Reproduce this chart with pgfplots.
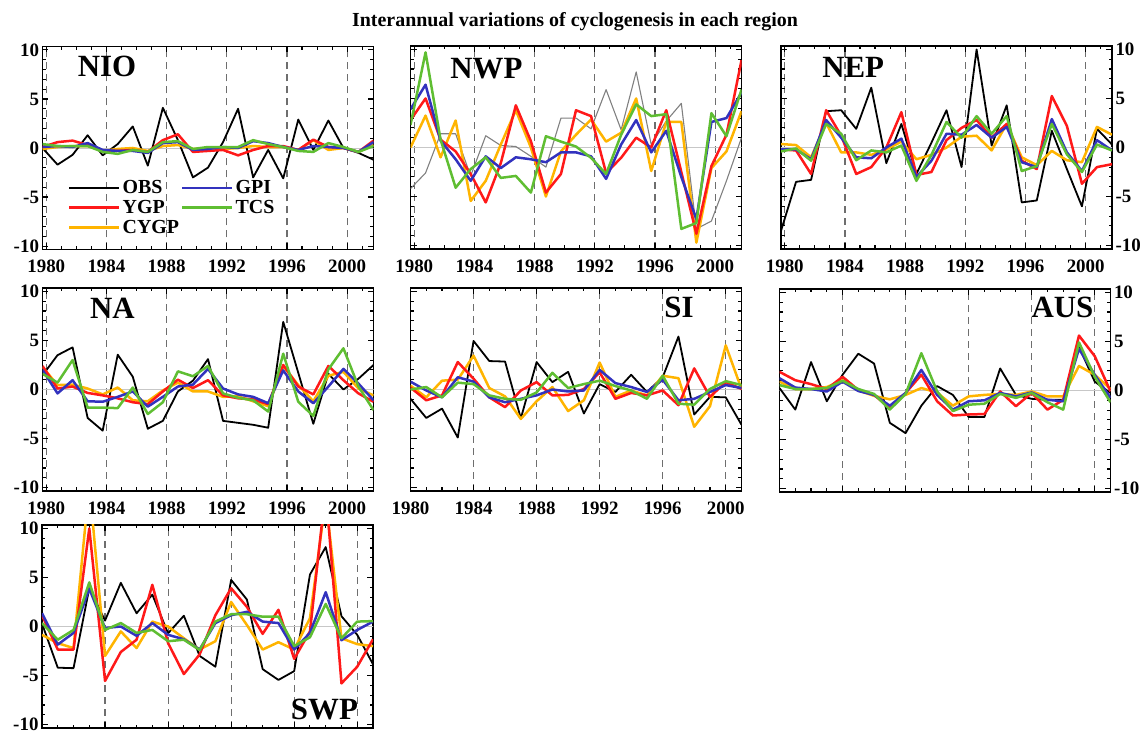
\documentclass[border=0pt]{standalone}
\usepackage{fontspec}
\setmainfont{Liberation Serif}
\usepackage{pgfplots}
\usepackage{pgfplotstable}
\pgfplotsset{compat=1.18}
\definecolor{cred}{RGB}{255,25,25}
\definecolor{cblue}{RGB}{50,50,190}
\definecolor{cgreen}{RGB}{95,190,50}
\definecolor{corange}{RGB}{255,180,0}
\definecolor{cgrid}{RGB}{110,110,110}

\pgfplotstableread{
x obs ygp cygp gpi tcs
1979.75 0.0 0.1 -0.1 0.1 0.4
1980.75 -1.7 0.6 0.1 0.2 0.2
1981.75 -0.7 0.75 0.2 0.1 0.2
1982.75 1.3 0.3 0.2 0.5 0.2
1983.75 -0.75 -0.3 -0.3 -0.2 -0.4
1984.75 0.4 -0.3 -0.1 -0.3 -0.6
1985.75 2.2 -0.2 0.0 -0.3 -0.2
1986.75 -1.8 -0.4 -0.3 -0.5 -0.4
1987.75 4.1 0.8 0.2 0.5 0.6
1988.75 0.8 1.4 0.3 0.6 0.7
1989.75 -3.0 -0.4 -0.1 -0.2 -0.1
1990.75 -2.0 -0.3 0.0 -0.1 0.1
1991.75 0.6 -0.2 -0.1 0.1 0.1
1992.75 4.0 -0.75 0.0 0.0 0.1
1993.75 -3.0 -0.2 0.2 0.7 0.8
1994.75 -0.2 0.2 0.1 0.5 0.4
1995.75 -3.1 0.2 0.1 0.1 0.1
1996.75 2.9 -0.2 -0.2 -0.2 -0.3
1997.75 -0.2 0.85 0.8 0.2 -0.4
1998.75 2.8 0.1 -0.2 0.1 0.5
1999.75 0.0 0.0 0.0 0.0 0.1
2000.75 -0.5 -0.4 -0.4 -0.4 -0.4
2001.75 -1.2 0.75 0.3 0.6 0.2
}\tabNIO

\pgfplotstableread{
x obs ygp cygp gpi tcs
1979.75 -4.2 2.8 0.0 3.9 2.3
1980.75 -2.6 5.0 3.25 6.4 9.7
1981.75 1.4 0.8 -1.0 0.7 0.8
1982.75 1.4 -0.4 2.75 -1.2 -4.1
1983.75 -2.9 -2.7 -5.45 -3.4 -2.2
1984.75 1.2 -5.6 -3.4 -0.9 -1.0
1985.75 0.2 -1.6 0.3 -2.1 -3.1
1986.75 0.1 4.3 3.8 -1.0 -2.9
1987.75 -0.9 0.65 0.0 -1.2 -4.6
1988.75 -2.0 -4.6 -5.0 -1.5 1.15
1989.75 3.0 -2.7 -0.4 -0.5 0.6
1990.75 3.0 3.8 1.3 -0.5 0.1
1991.75 1.9 3.2 2.85 -0.9 -1.05
1992.75 5.9 -2.6 0.6 -3.2 -2.7
1993.75 1.8 -1.05 1.5 0.3 1.3
1994.75 7.7 1.0 5.0 2.8 4.4
1995.75 0.3 0.0 -2.4 -0.5 3.2
1996.75 2.7 3.8 2.6 1.7 3.4
1997.75 4.5 -2.5 2.6 -3.0 -8.3
1998.75 -8.3 -8.8 -9.7 -7.3 -7.7
1999.75 -7.5 -1.9 -2.1 2.6 3.5
2000.75 -3.4 1.3 -0.4 3.0 1.15
2001.75 1.0 8.9 3.7 5.6 5.9
}\tabNWP

\pgfplotstableread{
x obs ygp cygp gpi tcs
1979.75 -8.5 -0.2 0.35 -0.2 -0.4
1980.75 -3.5 -0.3 0.25 -0.2 -0.1
1981.75 -3.3 -2.7 -1.0 -1.2 -1.35
1982.75 3.7 3.8 2.5 2.8 2.4
1983.75 3.8 1.2 -0.5 1.0 1.4
1984.75 1.9 -2.7 -0.5 -1.0 -1.3
1985.75 6.1 -2.0 -0.75 -1.1 -0.3
1986.75 -1.6 0.0 -0.2 0.0 -0.5
1987.75 2.4 3.6 0.6 0.9 0.2
1988.75 -2.7 -2.8 -1.2 -3.0 -3.4
1989.75 0.5 -2.5 -0.75 -1.35 -0.75
1990.75 3.8 0.75 0.0 1.4 2.6
1991.75 -2.0 2.0 1.1 1.3 1.0
1992.75 10.0 2.8 1.2 2.3 3.2
1993.75 0.2 1.0 -0.3 1.0 1.4
1994.75 4.3 2.4 2.4 2.1 3.2
1995.75 -5.6 -1.35 -1.0 -1.5 -2.4
1996.75 -5.4 -2.2 -1.8 -2.0 -1.9
1997.75 1.7 5.25 -0.35 2.9 2.4
1998.75 -2.2 2.2 -1.3 -0.5 -0.7
1999.75 -6.0 -3.7 -1.5 -2.4 -2.5
2000.75 1.9 -2.0 2.1 0.75 0.3
2001.75 0.3 -1.7 1.3 -0.3 -0.3
}\tabNEP

\pgfplotstableread{
x obs ygp cygp gpi tcs
1979.75 1.45 2.4 2.3 2.0 1.6
1980.75 3.5 0.1 0.45 -0.4 0.7
1981.75 4.3 0.3 0.5 0.95 3.0
1982.75 -2.9 -0.35 0.1 -1.2 -1.85
1983.75 -4.2 -0.6 -0.5 -1.25 -1.85
1984.75 3.55 -0.9 0.2 -0.75 -1.9
1985.75 1.3 -1.3 -1.1 -0.2 0.2
1986.75 -4.0 -1.5 -1.2 -1.75 -2.5
1987.75 -3.2 -0.2 -0.1 -0.75 -1.3
1988.75 -0.2 1.0 0.7 0.3 1.85
1989.75 0.9 0.15 -0.2 0.5 1.35
1990.75 3.1 0.95 -0.2 2.1 2.4
1991.75 -3.2 -0.6 -0.75 0.1 -0.4
1992.75 -3.4 -0.9 -0.7 -0.5 -0.85
1993.75 -3.6 -1.0 -1.2 -0.75 -1.1
1994.75 -3.9 -1.5 -1.7 -1.4 -2.25
1995.75 6.9 2.5 2.4 1.95 3.65
1996.75 1.7 0.3 0.45 -0.2 -1.25
1997.75 -3.5 -0.5 -1.2 -1.4 -2.7
1998.75 1.6 2.4 1.4 0.3 2.05
1999.75 0.0 0.95 1.8 2.1 4.2
2000.75 1.1 -0.4 0.1 0.6 0.3
2001.75 2.5 -1.25 -0.6 -1.1 -2.1
}\tabNA

\pgfplotstableread{
x obs ygp cygp gpi tcs
1980 -0.95 0.2 0.4 0.8 0.0
1981 -2.9 -1.1 -0.8 -0.1 0.25
1982 -1.95 -0.6 0.9 -0.8 -0.8
1983 -4.9 2.8 1.0 1.25 0.7
1984 4.95 1.1 3.45 0.8 0.55
1985 2.9 -0.8 0.15 -0.8 -0.6
1986 2.85 -1.8 -0.7 -1.3 -0.95
1987 -2.95 -0.1 -3.0 -0.95 -1.05
1988 2.8 0.75 -1.2 -0.6 -0.3
1989 0.75 -0.6 0.25 0.0 1.7
1990 1.8 -0.55 -2.2 -0.2 0.15
1991 -2.45 0.05 -1.1 -0.1 0.55
1992 0.55 1.75 2.75 2.0 0.9
1993 -0.25 -0.95 -0.75 0.65 0.35
1994 1.5 -0.35 -0.1 0.25 -0.1
1995 -0.25 -0.6 -0.6 -0.25 -0.95
1996 1.25 -0.1 1.4 1.0 1.4
1997 5.4 -1.6 1.15 -1.1 -1.45
1998 -2.55 2.15 -3.8 -0.95 -1.55
1999 -0.75 -0.75 -1.7 -0.25 0.05
2000 -0.8 0.75 4.5 0.45 0.85
2001 -3.6 0.05 0.05 0.15 0.45
}\tabSI

\pgfplotstableread{
x obs ygp cygp gpi tcs
1980 0.25 1.9 0.9 1.25 0.55
1981 -1.95 1.05 0.15 0.3 0.15
1982 2.9 0.65 0.15 0.15 0.15
1983 -1.1 0.15 0.35 -0.1 0.25
1984 1.6 1.4 1.05 0.9 1.0
1985 3.75 0.05 0.0 -0.05 0.15
1986 2.75 -0.45 -0.55 -0.45 -0.35
1987 -3.3 -1.8 -0.9 -1.55 -1.95
1988 -4.35 -0.25 -0.45 -0.25 -0.35
1989 -1.55 1.6 0.25 2.1 3.8
1990 0.45 -1.1 -0.2 -0.45 -0.1
1991 -0.45 -2.55 -1.55 -1.95 -2.1
1992 -2.7 -2.45 -0.6 -1.1 -1.45
1993 -2.7 -2.4 -0.45 -1.0 -1.35
1994 2.25 -0.1 -0.35 -0.25 -0.35
1995 -0.45 -1.6 -0.45 -0.6 -0.75
1996 -0.85 -0.25 -0.1 -0.2 -0.25
1997 -0.95 -1.95 -0.6 -0.95 -1.2
1998 -0.95 -0.95 -0.6 -1.1 -1.95
1999 4.45 5.6 2.5 4.25 4.9
2000 0.9 3.5 1.6 1.6 1.4
2001 -0.25 -0.1 0.15 -0.75 -1.2
}\tabAUS

\pgfplotstableread{
x obs ygp cygp gpi tcs
1980 0.3 1.15 -0.85 1.35 0.35
1981 -4.2 -2.35 -1.7 -1.85 -1.35
1982 -4.25 -2.35 -2.2 -0.65 -0.35
1983 3.9 10.0 14.5 3.85 4.5
1984 0.6 -5.55 -3.0 -0.15 -0.35
1985 4.45 -2.6 -0.5 0.0 0.35
1986 1.35 -1.35 -2.2 -0.95 -0.65
1987 3.25 4.25 0.5 0.35 -0.35
1988 -0.7 -1.7 0.0 -0.85 -1.5
1989 1.1 -4.85 -1.2 -1.3 -1.35
1990 -3.0 -2.85 -2.35 -2.35 -2.4
1991 -4.1 1.15 -1.5 0.35 0.5
1992 4.75 3.9 2.5 1.15 1.25
1993 2.75 2.0 0.15 1.5 1.25
1994 -4.35 -0.75 -2.35 0.5 1.0
1995 -5.45 1.7 -1.6 0.35 1.0
1996 -4.55 -3.3 -2.35 -2.35 -2.0
1997 5.3 -0.5 0.85 -0.65 -1.1
1998 8.1 14.0 13.0 3.5 2.3
1999 1.05 -5.8 -1.2 -1.4 -1.2
2000 -0.85 -4.1 -1.8 -0.35 0.5
2001 -3.85 -1.3 -2.0 0.5 0.55
}\tabSWP

\tikzset{
  sobs/.style={black, line width=1.8bp, line join=round},
  sgray/.style={black!50, line width=1.1bp, line join=round},
  sygp/.style={cred, line width=2.5bp, line join=round},
  scygp/.style={corange, line width=2.5bp, line join=round},
  sgpi/.style={cblue, line width=2.5bp, line join=round},
  stcs/.style={cgreen, line width=2.5bp, line join=round},
  plab/.style={font=\bfseries\fontsize{31}{31}\selectfont, inner sep=0pt},
}

\pgfplotsset{
  panel/.style={
    scale only axis, width=331bp, height=203bp,
    anchor=south west,
    ymin=-10.35, ymax=10.35,
    ytick={-10,-5,0,5,10},
    yticklabels={-10,-5,0,5,10},
    minor ytick={-10,...,10},
    xtick={1980,1984,1988,1992,1996,2000},
    xticklabels={1980,1984,1988,1992,1996,2000},
    minor xtick={1980,...,2001},
    xtick pos=both, ytick pos=both,
    xmajorgrids,
    major grid style={draw=cgrid, dash pattern=on 7bp off 5bp, line width=1.1bp},
    tick align=inside,
    major tick length=6bp, minor tick length=3.5bp,
    every tick/.style={black, line width=1.1bp},
    axis line style={line width=1.8bp},
    tick label style={font=\bfseries\fontsize{19}{19}\selectfont},
    xticklabel style={yshift=-7bp},
  },
  nh/.style={xmin=1979.75, xmax=2001.75},
  sh/.style={xmin=1980, xmax=2001},
  zeroline/.style={black!22, line width=0.8bp, forget plot},
}

\newcommand{\drawall}[2]{%
  \addplot[zeroline] coordinates {(1979,0) (2003,0)};
  \addplot[#2, forget plot] table[x=x,y=obs]{#1};
  \addplot[scygp, forget plot] table[x=x,y=cygp]{#1};
  \addplot[sygp, forget plot] table[x=x,y=ygp]{#1};
  \addplot[sgpi, forget plot] table[x=x,y=gpi]{#1};
  \addplot[stcs, forget plot] table[x=x,y=tcs]{#1};
}

\begin{document}
\begin{tikzpicture}
\path[use as bounding box] (0,0) rectangle (1148bp,734bp);
\node[anchor=base, font=\bfseries\fontsize{20}{20}\selectfont, inner sep=0pt] at (575bp,707bp) {Interannual variations of cyclogenesis in each region};

% NIO
\begin{axis}[panel, nh, at={(42.5bp,484.5bp)},
  legend columns=2,
  legend style={draw=none, fill=none, at={(0.077,0.35)}, anchor=north west,
    font=\bfseries\fontsize{20}{20}\selectfont, inner sep=0pt, row sep=1bp,
    /tikz/every even column/.append style={column sep=0bp}},
  legend cell align=left,
  legend image code/.code={\draw[#1] (0bp,0bp) -- (50bp,0bp);},
]
\drawall{\tabNIO}{sobs}
\addlegendimage{sobs}\addlegendentry{OBS}
\addlegendimage{sgpi}\addlegendentry{GPI}
\addlegendimage{sygp}\addlegendentry{YGP}
\addlegendimage{stcs}\addlegendentry{TCS}
\addlegendimage{scygp}\addlegendentry{CYGP}
\node[plab, anchor=base west] at (rel axis cs:0.106,0.852) {NIO};
\end{axis}

% NWP
\begin{axis}[panel, nh, at={(410.5bp,485bp)}, yticklabels={}]
\drawall{\tabNWP}{sgray}
\node[plab, anchor=base west] at (rel axis cs:0.12,0.842) {NWP};
\end{axis}

% NEP
\begin{axis}[panel, nh, at={(781bp,485bp)}, yticklabel pos=right]
\drawall{\tabNEP}{sobs}
\node[plab, anchor=base west] at (rel axis cs:0.124,0.847) {NEP};
\end{axis}

% NA
\begin{axis}[panel, nh, at={(42.5bp,243bp)}]
\drawall{\tabNA}{sobs}
\node[plab, anchor=base west] at (rel axis cs:0.143,0.848) {NA};
\end{axis}

% SI
\begin{axis}[panel, sh, at={(410.5bp,243bp)}, yticklabels={}]
\drawall{\tabSI}{sobs}
\node[plab, anchor=base east] at (rel axis cs:0.856,0.857) {SI};
\end{axis}

% AUS
\begin{axis}[panel, sh, at={(779.5bp,242bp)}, yticklabel pos=right, xticklabels={}]
\drawall{\tabAUS}{sobs}
\node[plab, anchor=base east] at (rel axis cs:0.949,0.859) {AUS};
\end{axis}

% SWP
\begin{axis}[panel, sh, at={(42bp,6bp)}, xticklabels={}]
\drawall{\tabSWP}{sobs}
\node[plab, anchor=base east] at (rel axis cs:0.955,0.044) {SWP};
\end{axis}
\end{tikzpicture}
\end{document}
